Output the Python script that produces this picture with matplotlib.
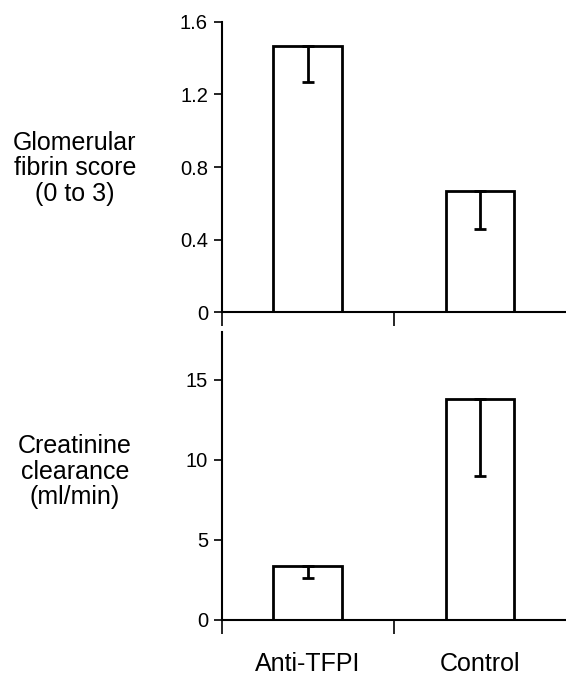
#!/usr/bin/env python3
"""Glomerular fibrin score and creatinine clearance, anti-TFPI vs control."""
import matplotlib

matplotlib.use("Agg")
import matplotlib.pyplot as plt

groups = ["Anti-TFPI", "Control"]
fibrin_mean = [1.47, 0.67]
fibrin_err = [0.20, 0.21]
clearance_mean = [3.4, 13.8]
clearance_err = [0.8, 4.8]

plt.rcParams["font.family"] = ["Liberation Sans", "DejaVu Sans"]
plt.rcParams["font.size"] = 14.5

fig = plt.figure(figsize=(5.66, 6.79), dpi=100)
fig.patch.set_facecolor("white")
ax1 = fig.add_axes([0.392, 0.5405, 0.608, 0.4271])
ax2 = fig.add_axes([0.392, 0.0869, 0.608, 0.4242])

pos = [0.5, 1.5]


def panel(ax, means, errs, ylim, yticks, yticklabels, ylabel, label_xy, show_names):
    ax.bar(pos, means, width=0.4, color="white", edgecolor="black",
           linewidth=2, zorder=2)
    ax.errorbar(pos, means, yerr=[errs, [0, 0]], fmt="none", ecolor="black",
                elinewidth=2, capsize=4, capthick=2, zorder=3)
    ax.set_xlim(0, 2)
    ax.set_ylim(*ylim)
    ax.set_yticks(yticks, yticklabels)
    ax.set_xticks([0, 1], ["", ""])
    ax.tick_params(axis="x", which="major", length=10, width=1.2)
    ax.tick_params(axis="y", length=6, width=1.2, pad=4)
    if show_names:
        ax.set_xticks(pos, groups, minor=True, fontsize=18)
    else:
        ax.set_xticks(pos, ["", ""], minor=True)
    ax.tick_params(axis="x", which="minor", length=0, pad=23)
    for side in ("top", "right"):
        ax.spines[side].set_visible(False)
    for side in ("left", "bottom"):
        ax.spines[side].set_linewidth(1.5)
    ax.set_ylabel(ylabel, rotation=0, ha="center", va="center",
                  fontsize=18, linespacing=1.08)
    ax.yaxis.set_label_coords(*label_xy)


panel(ax1, fibrin_mean, fibrin_err, (0, 1.6), [0, 0.4, 0.8, 1.2, 1.6],
      ["0", "0.4", "0.8", "1.2", "1.6"],
      "Glomerular\nfibrin score\n(0 to 3)", (-0.427, 0.495), False)
panel(ax2, clearance_mean, clearance_err, (0, 18), [0, 5, 10, 15],
      ["0", "5", "10", "15"],
      "Creatinine\nclearance\n(ml/min)", (-0.427, 0.515), True)

fig.savefig("out.png", dpi=100, facecolor="white")
plt.close(fig)
